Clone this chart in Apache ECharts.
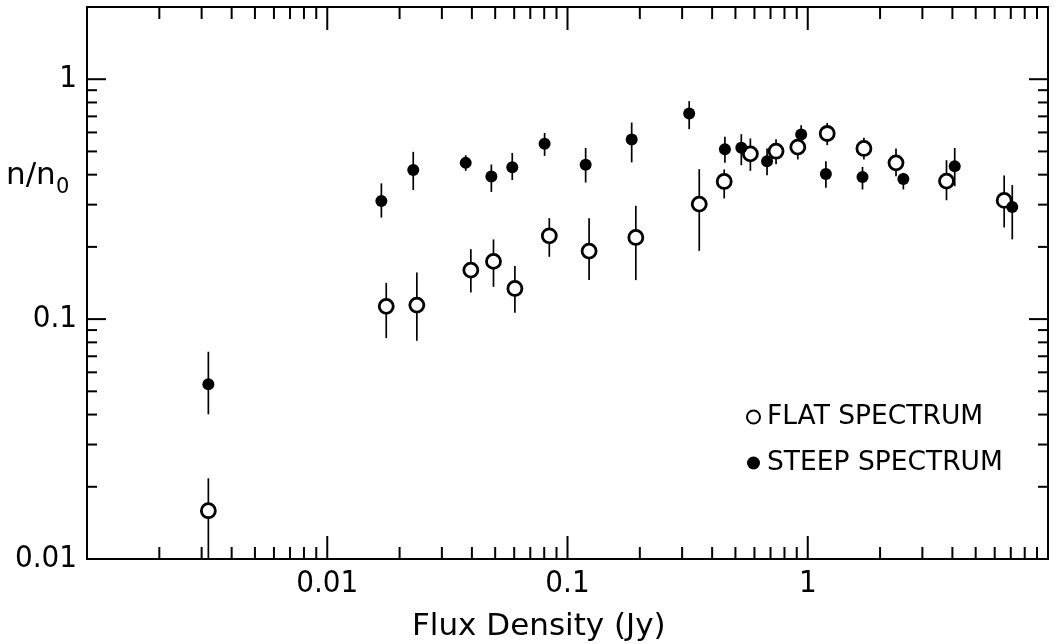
<!DOCTYPE html>
<html>
<head>
<meta charset="utf-8">
<script src="https://cdn.jsdelivr.net/npm/echarts@6/dist/echarts.min.js"></script>
<style>
html,body{margin:0;padding:0;background:#ffffff;}
#c{width:1056px;height:644px;}
</style>
</head>
<body>
<div id="c"></div>
<script>
// ---- data ----
const flatX  = [0.0032, 0.0176, 0.0236, 0.0396, 0.0492, 0.0604, 0.084, 0.123, 0.1925, 0.3535, 0.449, 0.577, 0.738, 0.909, 1.205, 1.713, 2.33, 3.78, 6.57];
const flatY  = [0.0159, 0.113, 0.1144, 0.160, 0.174, 0.1342, 0.2224, 0.192, 0.219, 0.3014, 0.3748, 0.4884, 0.501, 0.521, 0.594, 0.5144, 0.448, 0.376, 0.3124];
const flatLo = [0.0100, 0.0833, 0.0812, 0.1292, 0.1363, 0.1062, 0.1818, 0.1454, 0.1454, 0.1926, 0.3184, 0.415, 0.4425, 0.4628, 0.531, 0.4628, 0.3943, 0.313, 0.241];
const flatHi = [0.0217, 0.1417, 0.1565, 0.1957, 0.2148, 0.1663, 0.2635, 0.263, 0.2966, 0.4217, 0.4205, 0.566, 0.5623, 0.584, 0.6575, 0.5695, 0.514, 0.4597, 0.397];

const steepX  = [0.0032, 0.0168, 0.0228, 0.0377, 0.0482, 0.0589, 0.0803, 0.119, 0.185, 0.321, 0.452, 0.529, 0.677, 0.939, 1.19, 1.69, 2.50, 4.09, 7.10];
const steepY  = [0.0535, 0.311, 0.418, 0.448, 0.393, 0.430, 0.538, 0.440, 0.561, 0.720, 0.510, 0.518, 0.455, 0.588, 0.403, 0.391, 0.384, 0.434, 0.293];
const steepLo = [0.0401, 0.265, 0.345, 0.415, 0.339, 0.380, 0.479, 0.371, 0.450, 0.619, 0.448, 0.438, 0.398, 0.548, 0.353, 0.347, 0.347, 0.358, 0.215];
const steepHi = [0.0731, 0.368, 0.498, 0.482, 0.441, 0.493, 0.597, 0.517, 0.660, 0.810, 0.575, 0.590, 0.514, 0.643, 0.455, 0.431, 0.407, 0.517, 0.362];

const seriesNames = ['FLAT SPECTRUM', 'STEEP SPECTRUM'];

// ---- axis ticks and labels ----
const xLabelValues = [0.01, 0.1, 1];
const xTickLabels  = ['0.01', '0.1', '1'];
const yLabelValues = [0.01, 0.1, 1];
const yTickLabels  = ['0.01', '0.1', '1'];
const xMajorTicks = [0.01, 0.1, 1];
const xMinorTicks = [0.002,0.003,0.004,0.005,0.006,0.007,0.008,0.009,
                     0.02,0.03,0.04,0.05,0.06,0.07,0.08,0.09,
                     0.2,0.3,0.4,0.5,0.6,0.7,0.8,0.9,
                     2,3,4,5,6,7,8,9];
const yMajorTicks = [0.1, 1];
const yMinorTicks = [0.02,0.03,0.04,0.05,0.06,0.07,0.08,0.09,
                     0.2,0.3,0.4,0.5,0.6,0.7,0.8,0.9];

const axisTitleX = 'Flux Density (Jy)';
const axisTitleY = 'n/n';
const axisTitleYSub = '0';

// ---- build ----
const FONT = 'DejaVu Sans';
const FONT_C = '"DejaVu Sans Condensed", "DejaVu Sans"';

function labelFor(v, vals, labels) {
  for (let i = 0; i < vals.length; i++) {
    if (Math.abs(Math.log10(v) - Math.log10(vals[i])) < 1e-6) return labels[i];
  }
  return '';
}

const xTickData = xMajorTicks.map(v => [v, 1, 1]).concat(xMinorTicks.map(v => [v, 1, 0]));
const yTickData = yMajorTicks.map(v => [1, v, 1]).concat(yMinorTicks.map(v => [1, v, 0]));

const TICK_STYLE = {stroke: '#000', lineWidth: 2};

function renderXTick(params, api) {
  const cs = params.coordSys;
  const px = api.coord([api.value(0), 1])[0];
  const len = api.value(2) ? 23 : 12;
  const b = cs.y + cs.height, t = cs.y;
  return {type: 'group', children: [
    {type: 'line', shape: {x1: px, y1: b, x2: px, y2: b - len}, style: TICK_STYLE},
    {type: 'line', shape: {x1: px, y1: t, x2: px, y2: t + len}, style: TICK_STYLE}
  ]};
}
function renderYTick(params, api) {
  const cs = params.coordSys;
  const py = api.coord([1, api.value(1)])[1];
  const len = api.value(2) ? 19 : 10;
  const l = cs.x, r = cs.x + cs.width;
  return {type: 'group', children: [
    {type: 'line', shape: {x1: l, y1: py, x2: l + len, y2: py}, style: TICK_STYLE},
    {type: 'line', shape: {x1: r, y1: py, x2: r - len, y2: py}, style: TICK_STYLE}
  ]};
}
function renderErr(params, api) {
  const x = api.value(0);
  const p1 = api.coord([x, api.value(1)]);
  const p2 = api.coord([x, api.value(2)]);
  return {type: 'line', shape: {x1: p1[0], y1: p1[1], x2: p2[0], y2: p2[1]},
          style: {stroke: '#000', lineWidth: 1.7}};
}

const flatErr  = flatX.map((x, i) => [x, flatLo[i], flatHi[i]]);
const steepErr = steepX.map((x, i) => [x, steepLo[i], steepHi[i]]);
const flatPts  = flatX.map((x, i) => [x, flatY[i]]);
const steepPts = steepX.map((x, i) => [x, steepY[i]]);

const chart = echarts.init(document.getElementById('c'), null, {renderer: 'canvas'});
chart.setOption({
  animation: false,
  backgroundColor: '#ffffff',
  grid: {left: 87, right: 8, top: 7, bottom: 85, show: true, borderColor: '#000', borderWidth: 2, backgroundColor: 'transparent'},
  xAxis: {
    type: 'log', logBase: 10, min: 0.001, max: 10,
    axisLine: {show: false}, axisTick: {show: false}, splitLine: {show: false},
    axisLabel: {
      margin: 9, color: '#000', fontFamily: FONT_C, fontSize: 31,
      formatter: v => labelFor(v, xLabelValues, xTickLabels)
    }
  },
  yAxis: {
    type: 'log', logBase: 10, min: 0.01, max: 2,
    axisLine: {show: false}, axisTick: {show: false}, splitLine: {show: false},
    axisLabel: {
      margin: 10, color: '#000', fontFamily: FONT_C, fontSize: 31,
      formatter: v => labelFor(v, yLabelValues, yTickLabels)
    }
  },
  legend: {
    orient: 'vertical', left: 746, top: 402, padding: 0,
    itemWidth: 13, itemHeight: 13, itemGap: 16,
    textStyle: {fontFamily: FONT, fontSize: 26.5, color: '#000', lineHeight: 30, padding: [0, 0, 0, 2]},
    data: [
      {name: seriesNames[0], icon: 'circle', itemStyle: {color: '#fff', borderColor: '#000', borderWidth: 2}},
      {name: seriesNames[1], icon: 'circle', itemStyle: {color: '#000', borderWidth: 0}}
    ],
    selectedMode: false
  },
  graphic: [
    {type: 'text', left: 412, top: 611, style: {text: axisTitleX, font: '31px ' + FONT, fill: '#000'}},
    {type: 'text', left: 6, top: 160, style: {text: axisTitleY, font: '31px ' + FONT, fill: '#000'}},
    {type: 'text', left: 56, top: 177, style: {text: axisTitleYSub, font: '21px ' + FONT, fill: '#000'}}
  ],
  series: [
    {type: 'custom', name: 'xticks', data: xTickData, encode: {x: 0, y: 1}, renderItem: renderXTick, silent: true, z: 1},
    {type: 'custom', name: 'yticks', data: yTickData, encode: {x: 0, y: 1}, renderItem: renderYTick, silent: true, z: 1},
    {type: 'custom', name: 'flatErr', data: flatErr, encode: {x: 0, y: [1, 2]}, renderItem: renderErr, clip: true, z: 2},
    {type: 'custom', name: 'steepErr', data: steepErr, encode: {x: 0, y: [1, 2]}, renderItem: renderErr, clip: true, z: 2},
    {type: 'scatter', name: seriesNames[0], data: flatPts, symbol: 'circle', symbolSize: 14,
     itemStyle: {color: '#fff', borderColor: '#000', borderWidth: 2.8, opacity: 1}, z: 3},
    {type: 'scatter', name: seriesNames[1], data: steepPts, symbol: 'circle', symbolSize: 12,
     itemStyle: {color: '#000', opacity: 1}, z: 4}
  ]
});
</script>
</body>
</html>
